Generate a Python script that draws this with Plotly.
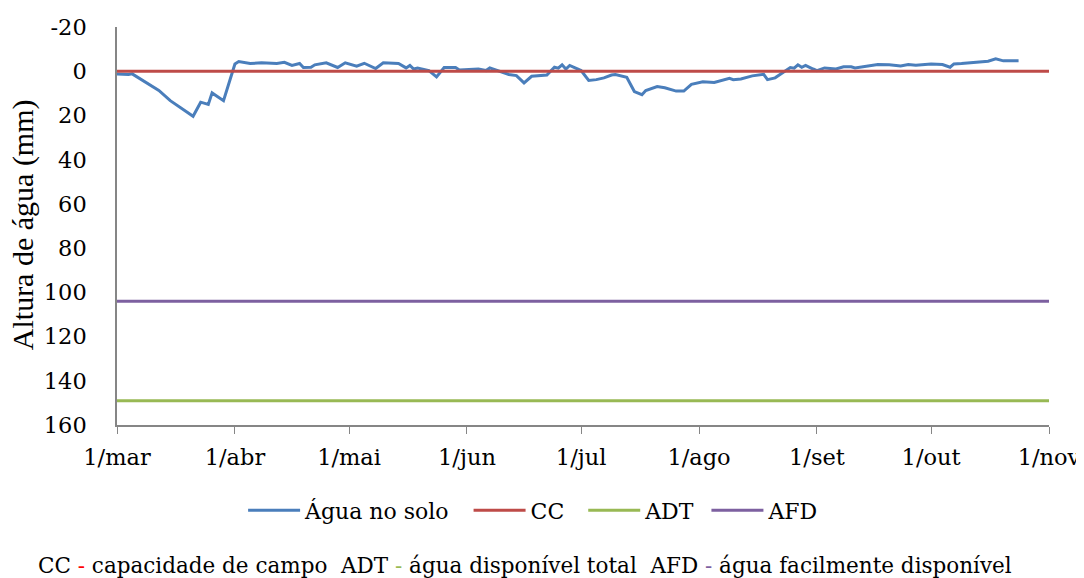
import plotly.graph_objects as go

# ---- data ----
dates = [
    "2011-03-01", "2011-03-04", "2011-03-05", "2011-03-12", "2011-03-15", "2011-03-21",
    "2011-03-23", "2011-03-25", "2011-03-26", "2011-03-29", "2011-04-01", "2011-04-02",
    "2011-04-05", "2011-04-08", "2011-04-12", "2011-04-14", "2011-04-16", "2011-04-18",
    "2011-04-19", "2011-04-21", "2011-04-22", "2011-04-25", "2011-04-28", "2011-04-30",
    "2011-05-03", "2011-05-05", "2011-05-08", "2011-05-10", "2011-05-14", "2011-05-16",
    "2011-05-17", "2011-05-18", "2011-05-19", "2011-05-22", "2011-05-24", "2011-05-26",
    "2011-05-29", "2011-05-30", "2011-06-04", "2011-06-06", "2011-06-07", "2011-06-10",
    "2011-06-12", "2011-06-14", "2011-06-16", "2011-06-18", "2011-06-22", "2011-06-24",
    "2011-06-25", "2011-06-26", "2011-06-27", "2011-06-28", "2011-07-01", "2011-07-03",
    "2011-07-05", "2011-07-07", "2011-07-09", "2011-07-10", "2011-07-13", "2011-07-15",
    "2011-07-17", "2011-07-18", "2011-07-21", "2011-07-23", "2011-07-26", "2011-07-28",
    "2011-07-30", "2011-08-02", "2011-08-05", "2011-08-09", "2011-08-10", "2011-08-12",
    "2011-08-15", "2011-08-18", "2011-08-19", "2011-08-21", "2011-08-23", "2011-08-25",
    "2011-08-26", "2011-08-27", "2011-08-28", "2011-08-29", "2011-08-31", "2011-09-01",
    "2011-09-03", "2011-09-06", "2011-09-08", "2011-09-10", "2011-09-11", "2011-09-14",
    "2011-09-17", "2011-09-20", "2011-09-23", "2011-09-25", "2011-09-27", "2011-10-01",
    "2011-10-04", "2011-10-06", "2011-10-07", "2011-10-09", "2011-10-12", "2011-10-16",
    "2011-10-18", "2011-10-20", "2011-10-24",
]
agua_no_solo = [
    1.2, 1.5, 1.2, 8.7, 13.3, 20.4,
    14.0, 15.0, 9.8, 13.3, -3.3, -4.4,
    -3.5, -3.8, -3.5, -4.0, -2.6, -3.5,
    -1.7, -1.8, -2.9, -3.8, -1.7, -3.8,
    -2.3, -3.6, -1.2, -3.8, -3.5, -1.5,
    -2.6, -1.0, -1.4, -0.3, 2.6, -1.7,
    -1.7, -0.6, -1.0, -0.3, -1.5, 0.5,
    1.5, 2.0, 5.3, 2.3, 1.7, -1.8,
    -1.4, -2.9, -1.0, -2.6, -0.3, 4.2,
    3.8, 3.0, 1.7, 1.5, 2.7, 9.2,
    10.6, 8.7, 6.9, 7.5, 9.0, 9.0,
    5.9, 4.8, 5.1, 3.2, 3.8, 3.5,
    2.1, 1.4, 3.8, 3.0, 0.5, -1.7,
    -1.4, -2.9, -1.8, -2.6, -1.0, -0.3,
    -1.5, -1.0, -2.0, -2.0, -1.5, -2.3,
    -3.0, -2.9, -2.4, -3.0, -2.7, -3.3,
    -3.0, -1.8, -3.3, -3.5, -4.0, -4.5,
    -5.6, -4.7, -4.7,
]
period = ["2011-03-01", "2011-11-01"]
cc_value = 0
adt_value = 149
afd_value = 104

tick_dates = ["2011-03-01", "2011-04-01", "2011-05-01", "2011-06-01", "2011-07-01",
              "2011-08-01", "2011-09-01", "2011-10-01", "2011-11-01"]
tick_labels = ["1/mar", "1/abr", "1/mai", "1/jun", "1/jul", "1/ago", "1/set", "1/out", "1/nov"]
y_ticks = [-20, 0, 20, 40, 60, 80, 100, 120, 140, 160]
y_tick_labels = ["-20", "0", "20", "40", "60", "80", "100", "120", "140", "160"]

# ---- figure ----
NBSP = "\u00a0"
fig = go.Figure()
fig.add_trace(go.Scatter(x=dates, y=agua_no_solo, mode="lines", name="Água no solo" + NBSP * 2,
                         line=dict(color="#4A7EBB", width=3)))
fig.add_trace(go.Scatter(x=period, y=[cc_value] * 2, mode="lines", name="CC" + NBSP * 2,
                         line=dict(color="#BE4B48", width=3)))
fig.add_trace(go.Scatter(x=period, y=[adt_value] * 2, mode="lines", name="ADT" + NBSP,
                         line=dict(color="#98B954", width=3)))
fig.add_trace(go.Scatter(x=period, y=[afd_value] * 2, mode="lines", name="AFD",
                         line=dict(color="#7D60A0", width=3)))

tick_font = dict(family="DejaVu Serif", size=22.5, color="#000000")

# the page body adds an 8px offset, so margins are shifted by 8px
fig.update_layout(
    width=1084, height=578,
    margin=dict(l=109, r=43, t=19, b=161),
    paper_bgcolor="white", plot_bgcolor="white",
    showlegend=True,
    legend=dict(orientation="h", x=0.447, xanchor="center", y=-0.215, yanchor="middle",
                font=dict(family="DejaVu Serif", size=22, color="#000000"),
                itemwidth=52, tracegroupgap=0),
    xaxis=dict(type="date", range=["2011-03-01", "2011-11-01"],
               tickvals=tick_dates, ticktext=tick_labels, automargin=False,
               showgrid=False, zeroline=False, showline=True, linecolor="#868686",
               linewidth=1.5, ticks="outside", tickcolor="#868686", ticklen=7,
               tickfont=tick_font, ticklabelstandoff=4),
    yaxis=dict(range=[160, -20], tickvals=y_ticks, ticktext=y_tick_labels, automargin=False,
               showgrid=False, zeroline=False,
               showline=True, linecolor="#868686", linewidth=1.5, ticks="",
               tickfont=tick_font, ticklabelstandoff=24),
)

fig.add_annotation(text="Altura de água (mm)", xref="paper", yref="paper",
                   x=-0.1, y=0.504, xanchor="center", yanchor="middle",
                   textangle=-90, showarrow=False,
                   font=dict(family="Liberation Serif", size=30, color="#000000"))

note = ("CC <span style='color:#FF0000'>-</span> capacidade de campo  "
        "ADT <span style='color:#98B954'>-</span> água disponível total  "
        "AFD <span style='color:#7D60A0'>-</span> água facilmente disponível")
fig.add_annotation(text=note, xref="paper", yref="paper", x=0.438, y=-0.354,
                   xanchor="center", yanchor="middle", showarrow=False,
                   font=dict(family="DejaVu Serif", size=21.5, color="#000000"))

fig.write_html("out.html")
